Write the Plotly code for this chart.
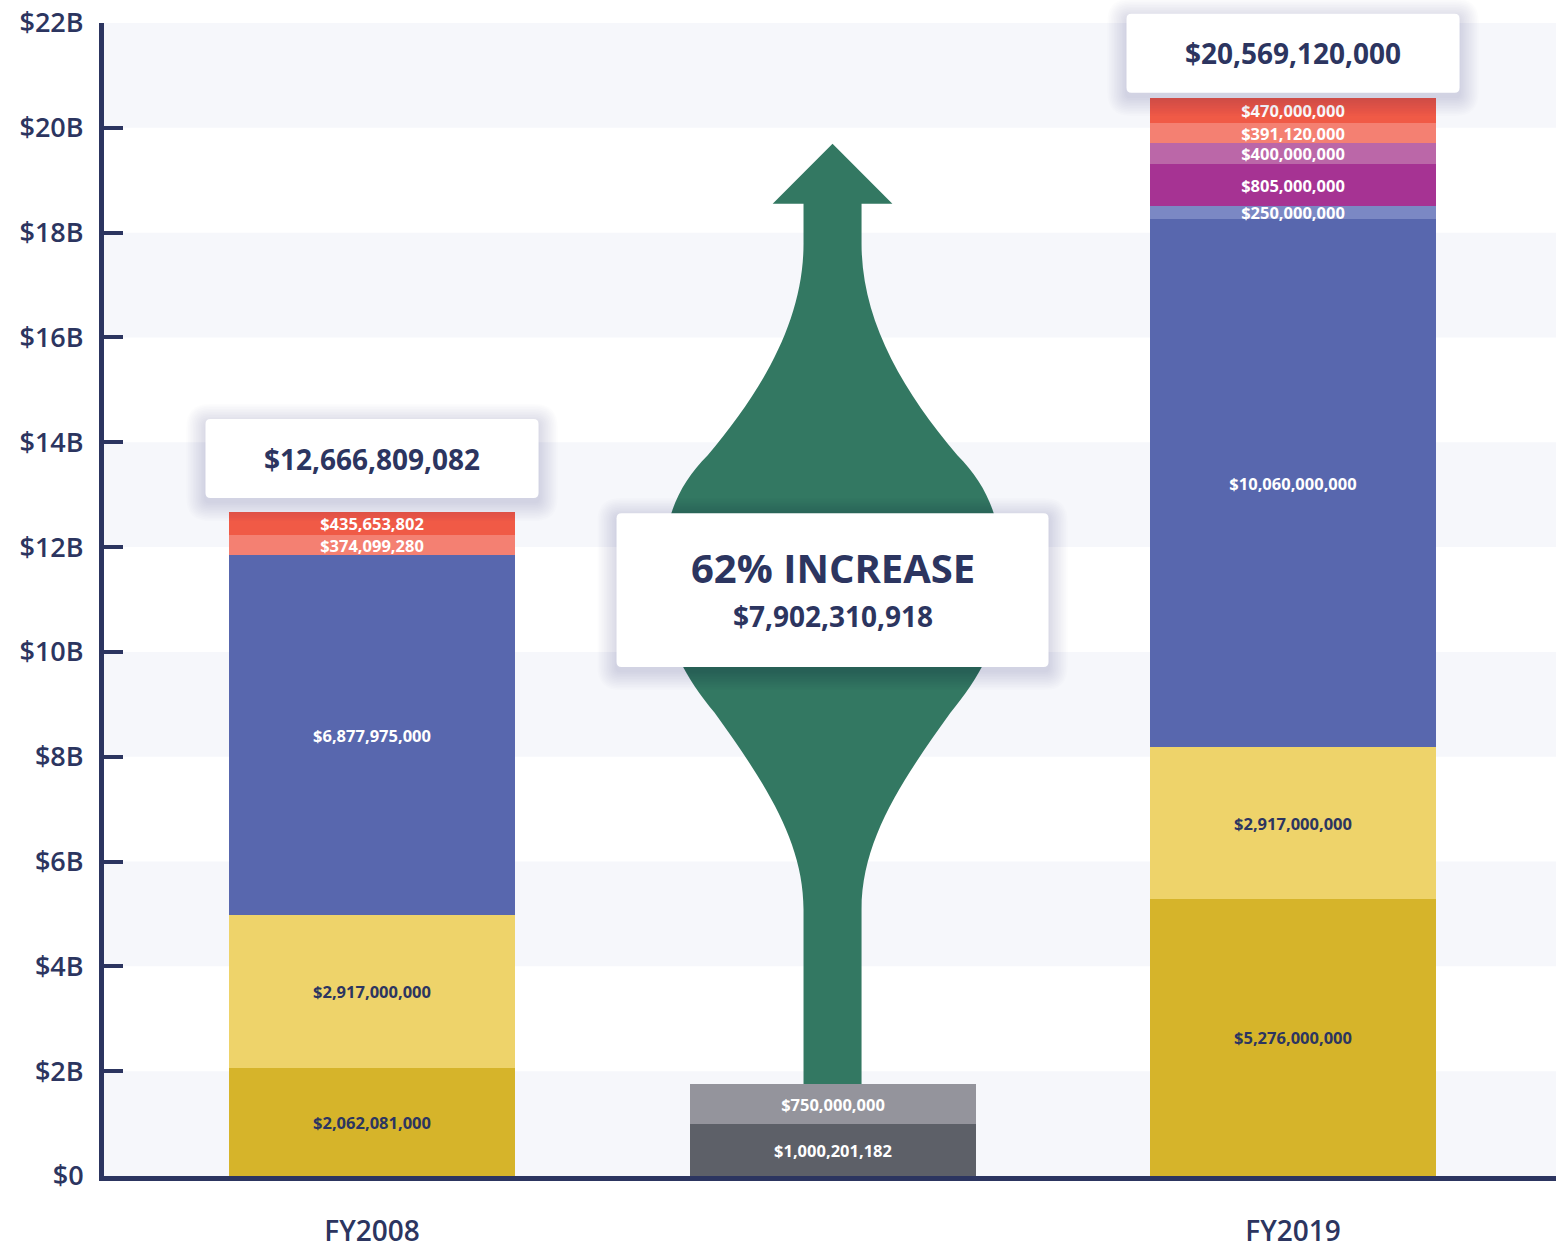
import plotly.graph_objects as go

# ---------------- data ----------------
categories = ["FY2008", "", "FY2019"]
x_positions = [0, 1, 2]

fy2008_values = [2062081000, 2917000000, 6877975000, 374099280, 435653802]
change_values = [1000201182, 750000000]
fy2019_values = [5276000000, 2917000000, 10060000000, 250000000,
                 805000000, 400000000, 391120000, 470000000]

y_tick_values = [0, 2, 4, 6, 8, 10, 12, 14, 16, 18, 20, 22]
y_tick_labels = ["$0", "$2B", "$4B", "$6B", "$8B", "$10B", "$12B",
                 "$14B", "$16B", "$18B", "$20B", "$22B"]

# ---------------- styles ----------------
NAVY = "#2c3560"
GOLD = "#d6b42a"
YELLOW = "#eed36a"
BLUE = "#5867ae"
LBLUE = "#7b88c4"
MAGENTA = "#a63393"
PINK = "#bb67a8"
SALMON = "#f48072"
RED = "#f05a46"
DGRAY = "#5d6068"
LGRAY = "#94949c"
GREEN = "#337862"
BAND = "#f6f7fb"
FONT = "Open Sans"

fy2008_colors = [GOLD, YELLOW, BLUE, SALMON, RED]
change_colors = [DGRAY, LGRAY]
fy2019_colors = [GOLD, YELLOW, BLUE, LBLUE, MAGENTA, PINK, SALMON, RED]
dark_text_fills = {GOLD, YELLOW}

BAR_W = 0.621
X_RANGE = [-0.582, 2.571]
Y_RANGE = [0, 22]
PX_X = 460.5           # pixels per category unit
PX_Y = 52.42           # pixels per billion
PLOT_H = 1153.0        # plot height in px

fig = go.Figure()

def add_stack(xpos, values, colors):
    for v, c in zip(values, colors):
        tc = NAVY if c in dark_text_fills else "white"
        fig.add_trace(go.Bar(
            x=[xpos], y=[v / 1e9], width=BAR_W,
            marker=dict(color=c, line=dict(width=0)),
            text=[f"${v:,}"], textposition="inside", insidetextanchor="middle",
            textangle=0, constraintext="none",
            textfont=dict(family=FONT, size=16.5, color=tc, weight=700),
            insidetextfont=dict(family=FONT, size=16.5, color=tc, weight=700),
            hovertemplate=f"${v:,}<extra></extra>", showlegend=False,
        ))

add_stack(x_positions[0], fy2008_values, fy2008_colors)
add_stack(x_positions[1], change_values, change_colors)
add_stack(x_positions[2], fy2019_values, fy2019_colors)

total_2008 = sum(fy2008_values)
total_2019 = sum(fy2019_values)
increase = total_2019 - total_2008
pct = round(increase / total_2008 * 100)
change_top = sum(change_values) / 1e9

shapes = []
# alternating background bands
for lo in range(0, 22, 4):
    shapes.append(dict(type="rect", xref="paper", yref="y", x0=0, x1=1,
                       y0=lo, y1=lo + 2, fillcolor=BAND, line=dict(width=0),
                       layer="below"))

# growth arrow (decorative) rising from the middle bar
s, h = 0.063, 0.130
def P(w, y):
    return f"{x_positions[1] + w:.4f},{y:.4f}"
tip = 19.695
head_base = 18.552
arrow = (
    f"M{P(s, change_top)} L{P(s, 5.086)} "
    f"C{P(s, 6.419)} {P(0.152, 7.562)} {P(0.256, 8.838)} "
    f"C{P(0.315, 9.467)} {P(0.369, 10.229)} {P(0.369, 11.181)} "
    f"C{P(0.3735, 12.324)} {P(0.347, 13.086)} {P(0.271, 13.752)} "
    f"C{P(0.152, 14.99)} {P(s, 16.324)} {P(s, 17.79)} "
    f"L{P(s, head_base)} L{P(h, head_base)} L{P(0, tip)} "
    f"L{P(-h, head_base)} L{P(-s, head_base)} L{P(-s, 17.79)} "
    f"C{P(-s, 16.324)} {P(-0.152, 14.99)} {P(-0.271, 13.752)} "
    f"C{P(-0.347, 13.086)} {P(-0.3735, 12.324)} {P(-0.369, 11.181)} "
    f"C{P(-0.369, 10.229)} {P(-0.315, 9.467)} {P(-0.256, 8.838)} "
    f"C{P(-0.152, 7.562)} {P(-s, 6.419)} {P(-s, 5.086)} "
    f"L{P(-s, change_top)} Z"
)
shapes.append(dict(type="path", xref="x", yref="y", path=arrow,
                   fillcolor=GREEN, line=dict(width=0), layer="below"))

def ypap(v):
    return (v - Y_RANGE[0]) / (Y_RANGE[1] - Y_RANGE[0])

def rounded(x0, x1, y0, y1, r_px):
    rx = r_px / PX_X
    ry = r_px / PLOT_H
    return (f"M{x0 + rx},{y0} L{x1 - rx},{y0} Q{x1},{y0} {x1},{y0 + ry} "
            f"L{x1},{y1 - ry} Q{x1},{y1} {x1 - rx},{y1} "
            f"L{x0 + rx},{y1} Q{x0},{y1} {x0},{y1 - ry} "
            f"L{x0},{y0 + ry} Q{x0},{y0} {x0 + rx},{y0} Z")

def add_box(xc, half_w, y0, y1):
    # soft shadow
    for i in range(1, 13):
        d = 1.6 * i
        off = 4 / PX_Y
        shapes.append(dict(type="path", xref="x", yref="paper",
                           path=rounded(xc - half_w - d / PX_X, xc + half_w + d / PX_X,
                                        ypap(y0 - d / PX_Y - off),
                                        ypap(y1 + d / PX_Y - off), 4 + d),
                           fillcolor="rgba(20,25,45,0.011)", line=dict(width=0),
                           layer="above"))
    shapes.append(dict(type="path", xref="x", yref="paper",
                       path=rounded(xc - half_w, xc + half_w, ypap(y0), ypap(y1), 5),
                       fillcolor="white", line=dict(width=0), layer="above"))

box_half = 0.3616
box_h = 1.505
b2008_lo = total_2008 / 1e9 + 0.27
b2019_lo = total_2019 / 1e9 + 0.10
add_box(x_positions[0], box_half, b2008_lo, b2008_lo + box_h)
add_box(x_positions[2], box_half, b2019_lo, b2019_lo + box_h)
mid_lo, mid_hi = 9.714, 12.648
add_box(x_positions[1], 0.469, mid_lo, mid_hi)

def note(x, y, text, size):
    return dict(x=x, y=ypap(y), xref="x", yref="paper", text=text,
                showarrow=False, xanchor="center", yanchor="middle",
                font=dict(family=FONT, size=size, color=NAVY, weight=700))

annotations = [
    note(x_positions[0], b2008_lo + box_h / 2, f"${total_2008:,}", 28),
    note(x_positions[2], b2019_lo + box_h / 2, f"${total_2019:,}", 28),
    note(x_positions[1], 11.62, f"{pct}% INCREASE", 40),
    note(x_positions[1], 10.686, f"${increase:,}", 28),
]

fig.update_layout(
    width=1556, height=1248,
    margin=dict(l=104, r=0, t=23, b=72),
    paper_bgcolor="white", plot_bgcolor="white",
    barmode="stack", bargap=0,
    shapes=shapes, annotations=annotations,
    showlegend=False,
    font=dict(family=FONT, color=NAVY),
    xaxis=dict(range=X_RANGE, tickvals=[x_positions[0], x_positions[2]],
               ticktext=[categories[0], categories[2]], showgrid=False,
               zeroline=False, showline=True, linecolor=NAVY, linewidth=5,
               ticks="", ticklabelstandoff=26, automargin=False,
               tickfont=dict(family=FONT, size=28, color=NAVY, weight=600)),
    yaxis=dict(range=Y_RANGE, tickvals=y_tick_values, ticktext=y_tick_labels,
               showgrid=False, zeroline=False, showline=True, linecolor=NAVY,
               linewidth=5, ticks="inside", ticklen=19, tickwidth=4,
               tickcolor=NAVY, ticklabelstandoff=10, automargin=False,
               tickfont=dict(family=FONT, size=27, color=NAVY, weight=600)),
)

fig.write_html(
    "out.html",
    config={"displayModeBar": False},
    post_script="document.body.style.margin='0';document.body.style.overflow='hidden';",
)
